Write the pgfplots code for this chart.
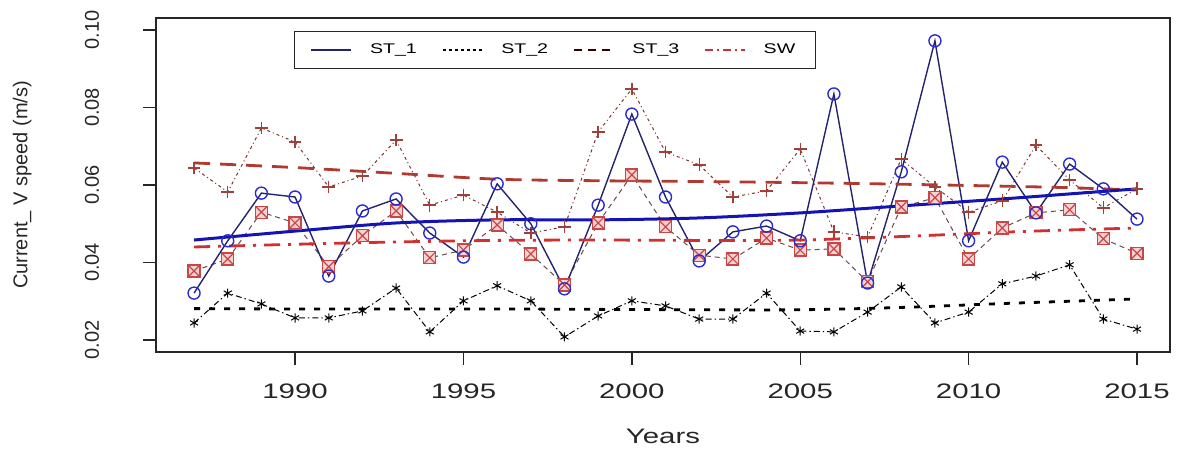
\documentclass[border=0pt]{standalone}
\usepackage{pgfplots}
\pgfplotsset{compat=1.18}
\usepackage{pgfplotstable}
\usetikzlibrary{plotmarks}
\usepackage{fontspec}
\setmainfont{Liberation Sans}[FakeStretch=1.4]
\newfontfamily\vfont{Liberation Sans}

\definecolor{navy}{HTML}{23236E}
\definecolor{cblue}{HTML}{2B2BD0}
\definecolor{tblue}{HTML}{1414B4}
\definecolor{sqred}{HTML}{C84646}
\definecolor{sqfill}{HTML}{F6D2D2}
\definecolor{plbrown}{HTML}{A0403A}
\definecolor{dbrown}{HTML}{B03A30}
\definecolor{dred}{HTML}{D03030}
\definecolor{lgray}{HTML}{6A4A4A}

\pgfdeclareplotmark{boxx}{%
  \pgfpathrectangle{\pgfqpoint{-\pgfplotmarksize}{-\pgfplotmarksize}}{\pgfqpoint{2\pgfplotmarksize}{2\pgfplotmarksize}}%
  \pgfusepathqfillstroke
  \pgfpathmoveto{\pgfqpoint{-\pgfplotmarksize}{-\pgfplotmarksize}}%
  \pgfpathlineto{\pgfqpoint{\pgfplotmarksize}{\pgfplotmarksize}}%
  \pgfpathmoveto{\pgfqpoint{-\pgfplotmarksize}{\pgfplotmarksize}}%
  \pgfpathlineto{\pgfqpoint{\pgfplotmarksize}{-\pgfplotmarksize}}%
  \pgfusepathqstroke}

\pgfplotstableread{
year st1 st2 sq pl
1987 0.0321 0.0244 0.0378 0.0644
1988 0.0456 0.0321 0.0409 0.0582
1989 0.0579 0.0293 0.0530 0.0747
1990 0.0569 0.0257 0.0502 0.0711
1991 0.0365 0.0257 0.0389 0.0595
1992 0.0533 0.0275 0.0469 0.0623
1993 0.0564 0.0334 0.0533 0.0716
1994 0.0476 0.0221 0.0412 0.0548
1995 0.0414 0.0301 0.0432 0.0574
1996 0.0603 0.0340 0.0497 0.0530
1997 0.0500 0.0301 0.0422 0.0476
1998 0.0332 0.0208 0.0342 0.0492
1999 0.0548 0.0262 0.0502 0.0737
2000 0.0783 0.0301 0.0626 0.0848
2001 0.0569 0.0288 0.0492 0.0685
2002 0.0404 0.0254 0.0419 0.0652
2003 0.0479 0.0254 0.0409 0.0569
2004 0.0494 0.0321 0.0463 0.0585
2005 0.0456 0.0223 0.0432 0.0693
2006 0.0835 0.0221 0.0435 0.0479
2007 0.0347 0.0272 0.0350 0.0466
2008 0.0634 0.0337 0.0543 0.0667
2009 0.0972 0.0244 0.0567 0.0595
2010 0.0456 0.0272 0.0409 0.0530
2011 0.0659 0.0345 0.0489 0.0559
2012 0.0528 0.0365 0.0528 0.0703
2013 0.0654 0.0394 0.0536 0.0613
2014 0.0590 0.0254 0.0461 0.0541
2015 0.0512 0.0228 0.0424 0.0590
}\datatable

\pgfplotstableread{
year t1 t2 t3 t4
1987 0.0458 0.0281 0.0657 0.0440
1990 0.0481 0.0280 0.0645 0.0447
1993 0.0502 0.0280 0.0630 0.0453
1996 0.0510 0.0280 0.0615 0.0457
1999 0.0510 0.0279 0.0611 0.0458
2002 0.0515 0.0278 0.0609 0.0457
2005 0.0528 0.0278 0.0606 0.0458
2008 0.0546 0.0284 0.0602 0.0467
2011 0.0564 0.0294 0.0597 0.0478
2013 0.0577 0.0300 0.0593 0.0484
2015 0.0590 0.0306 0.0587 0.0489
}\trendtable

\begin{document}
\begin{tikzpicture}
\useasboundingbox (-78pt,-49.5pt) rectangle (511.5pt,176pt);
\begin{axis}[
  at={(0,0)}, anchor=south west,
  scale only axis, width=507pt, height=167pt,
  xmin=1985.87, xmax=2015.98, ymin=0.0169, ymax=0.1031,
  axis line style={draw=black!85, line width=0.7pt},
  tick style={draw=black!85, line width=0.7pt},
  tick align=outside, major tick length=6.5pt,
  xtick pos=bottom, ytick pos=left,
  xtick={1990,1995,2000,2005,2010,2015},
  xticklabels={1990,1995,2000,2005,2010,2015},
  ytick={0.02,0.04,0.06,0.08,0.10},
  yticklabels={0.02,0.04,0.06,0.08,0.10},
  xticklabel style={font=\fontsize{10.5}{12}\selectfont, text=black!85},
  yticklabel style={font=\vfont\fontsize{10}{12}\selectfont, rotate=90, anchor=south, text=black!85},
  xticklabel shift=6pt,
  yticklabel shift=18.5pt,
  xlabel={Years},
  ylabel={Current\_ V speed (m/s)},
  every axis x label/.style={at={(axis description cs:0.5,-0.254)}, anchor=center, font=\fontsize{10.5}{12}\selectfont, text=black!85},
  every axis y label/.style={at={(axis description cs:-0.132,0.5)}, anchor=center, rotate=90, font=\vfont\fontsize{10}{12}\selectfont, text=black!85},
  legend columns=4,
  legend image code/.code={\draw[#1] (0pt,0pt) -- (20pt,0pt);},
  legend style={at={(0.136,0.961)}, anchor=north west, draw=black!85, line width=0.7pt,
    font=\fontsize{7}{8}\selectfont, inner xsep=8pt, inner ysep=4pt,
    /tikz/every even column/.append style={column sep=10.5pt},
    /tikz/every odd column/.append style={column sep=7pt}},
]
\addlegendimage{navy, line width=0.7pt}
\addlegendentry{ST\_1}
\addlegendimage{black, line width=0.7pt, dash pattern=on 1.5pt off 1.5pt}
\addlegendentry{ST\_2}
\addlegendimage{black!80!red, line width=0.7pt, dash pattern=on 4pt off 3pt}
\addlegendentry{ST\_3}
\addlegendimage{dred, line width=0.7pt, dash pattern=on 4pt off 2pt on 1pt off 2pt}
\addlegendentry{SW\hspace{6pt}}

% connecting lines with markers
\addplot[forget plot, plbrown!80!black, line width=0.5pt, dash pattern=on 1.5pt off 1.5pt on 0.5pt off 1.5pt,
  mark=+, mark size=3.2pt, mark options={solid, plbrown, line width=0.7pt}] table[x=year,y=pl]{\datatable};
\addplot[forget plot, lgray, line width=0.5pt, dash pattern=on 2.5pt off 2pt,
  mark=boxx, mark size=3pt, mark options={solid, draw=sqred, fill=sqfill, line width=0.6pt}] table[x=year,y=sq]{\datatable};
\addplot[forget plot, black, line width=0.5pt, dash pattern=on 3pt off 1.5pt on 0.7pt off 1.5pt,
  mark=asterisk, mark size=2.3pt, mark options={solid, black, line width=0.5pt}] table[x=year,y=st2]{\datatable};
\addplot[forget plot, navy, line width=0.7pt,
  mark=o, mark size=3pt, mark options={solid, cblue, line width=0.7pt}] table[x=year,y=st1]{\datatable};

% trend lines
\addplot[forget plot, black, line width=1.4pt, dash pattern=on 3pt off 4.5pt, smooth] table[x=year,y=t2]{\trendtable};
\addplot[forget plot, dbrown, line width=1.4pt, dash pattern=on 8pt off 5pt, smooth] table[x=year,y=t3]{\trendtable};
\addplot[forget plot, dred, line width=1.4pt, dash pattern=on 8pt off 4pt on 1.5pt off 4pt, smooth] table[x=year,y=t4]{\trendtable};
\addplot[forget plot, tblue, line width=1.5pt, smooth] table[x=year,y=t1]{\trendtable};
\end{axis}
\end{tikzpicture}
\end{document}
